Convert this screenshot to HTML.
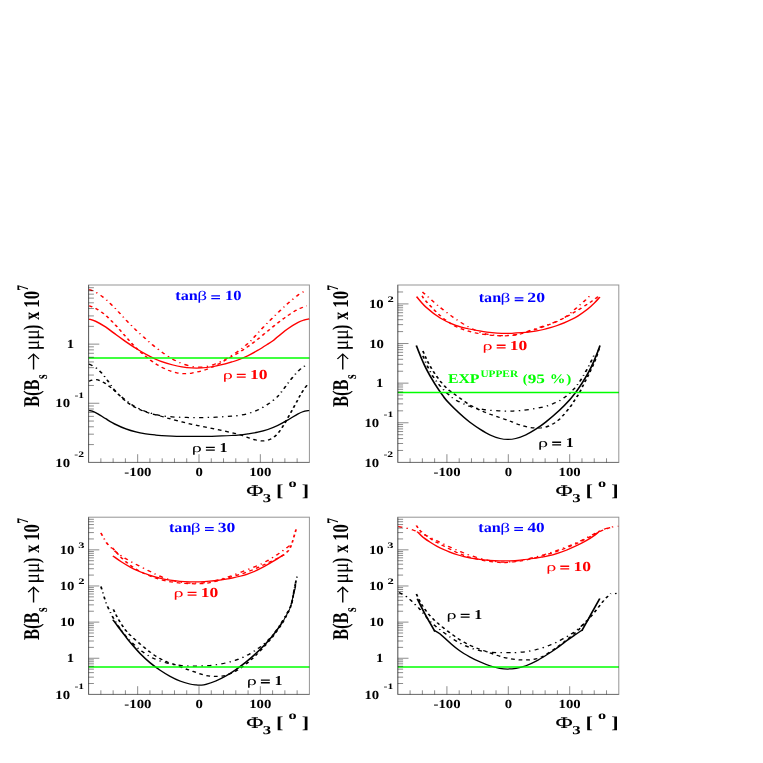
<!DOCTYPE html>
<html><head><meta charset="utf-8"><title>B(Bs to mu mu)</title>
<style>html,body{margin:0;padding:0;background:#fff;}body{width:763px;height:763px;overflow:hidden;}svg{display:block;will-change:transform;text-rendering:geometricPrecision;}text{font-family:"Liberation Serif",serif;font-weight:bold;}</style></head><body>
<svg width="763" height="763" viewBox="0 0 763 763">
<rect x="0" y="0" width="763" height="763" fill="#fff"/>
<g transform="scale(1.4100,1)">
<path d="M63.12,319.10 C63.92,319.48 65.97,320.04 67.95,321.37 C69.92,322.70 72.59,324.86 74.97,327.07 C77.36,329.29 80.01,332.36 82.26,334.68 C84.52,336.99 86.78,339.25 88.52,340.97 C90.27,342.70 91.45,343.79 92.75,345.02 C94.06,346.26 94.58,346.85 96.36,348.40 C98.14,349.94 101.10,352.46 103.45,354.27 C105.81,356.08 108.60,358.03 110.47,359.25 C112.35,360.47 112.78,360.69 114.71,361.60 C116.63,362.52 119.63,363.86 122.02,364.73 C124.41,365.61 126.69,366.33 129.03,366.86 C131.38,367.39 133.76,367.73 136.11,367.90 C138.45,368.07 140.76,368.05 143.11,367.86 C145.46,367.67 147.84,367.27 150.20,366.74 C152.56,366.22 154.91,365.51 157.27,364.71 C159.63,363.91 162.42,362.73 164.34,361.95 C166.25,361.16 166.83,361.02 168.74,359.98 C170.65,358.94 173.47,357.32 175.82,355.71 C178.17,354.11 180.48,352.29 182.84,350.35 C185.21,348.40 188.25,345.64 190.02,344.05 C191.79,342.46 192.27,342.04 193.45,340.81 C194.62,339.58 195.25,338.69 197.05,336.65 C198.86,334.62 201.89,330.96 204.27,328.61 C206.64,326.25 209.42,323.94 211.29,322.53 C213.15,321.12 214.10,320.74 215.44,320.14 C216.77,319.53 218.65,319.11 219.29,318.90" fill="none" stroke="#f00" stroke-width="1.25" />
<path d="M63.12,305.70 C63.92,306.15 65.95,306.81 67.91,308.41 C69.87,310.00 72.51,312.44 74.88,315.28 C77.24,318.11 79.72,321.83 82.11,325.41 C84.51,328.99 87.23,333.58 89.25,336.77 C91.27,339.95 92.81,342.41 94.23,344.54 C95.65,346.67 96.60,347.96 97.77,349.54 C98.95,351.11 100.11,352.54 101.29,353.98 C102.47,355.41 103.56,356.72 104.86,358.14 C106.15,359.56 107.65,361.16 109.06,362.49 C110.47,363.83 111.74,364.96 113.31,366.18 C114.88,367.39 117.03,368.86 118.48,369.77 C119.93,370.67 120.84,371.09 122.01,371.60 C123.17,372.10 124.31,372.49 125.47,372.80 C126.64,373.11 127.83,373.35 129.01,373.48 C130.19,373.61 131.37,373.64 132.55,373.56 C133.73,373.48 134.91,373.27 136.09,373.02 C137.27,372.77 138.47,372.42 139.64,372.06 C140.81,371.70 141.94,371.31 143.11,370.85 C144.28,370.39 145.47,369.90 146.64,369.31 C147.82,368.72 149.00,368.05 150.19,367.32 C151.37,366.58 152.58,365.73 153.76,364.90 C154.94,364.07 156.10,363.23 157.27,362.32 C158.44,361.40 159.60,360.39 160.78,359.41 C161.96,358.43 163.02,357.53 164.35,356.45 C165.68,355.37 167.45,354.04 168.77,352.95 C170.10,351.86 171.12,351.01 172.31,349.93 C173.49,348.85 174.71,347.65 175.88,346.49 C177.06,345.33 178.19,344.20 179.35,342.98 C180.52,341.77 181.08,341.23 182.86,339.21 C184.64,337.19 187.66,333.57 190.03,330.85 C192.40,328.13 194.71,325.44 197.07,322.88 C199.43,320.33 201.79,317.78 204.17,315.52 C206.56,313.26 209.14,310.97 211.36,309.34 C213.58,307.70 216.49,306.31 217.52,305.70" fill="none" stroke="#f00" stroke-width="1.25" stroke-dasharray="2.7 2.7"/>
<path d="M63.12,289.50 C63.92,289.97 65.94,290.68 67.91,292.30 C69.87,293.92 72.54,296.44 74.91,299.23 C77.28,302.01 79.73,305.57 82.12,309.00 C84.51,312.44 86.88,316.32 89.27,319.83 C91.66,323.35 94.10,326.92 96.45,330.10 C98.79,333.27 101.61,336.66 103.35,338.88 C105.10,341.10 105.75,341.98 106.93,343.41 C108.12,344.84 109.22,346.10 110.45,347.45 C111.68,348.80 113.21,350.38 114.32,351.52 C115.42,352.67 115.77,353.11 117.06,354.32 C118.35,355.53 120.52,357.52 122.04,358.77 C123.56,360.02 124.80,360.90 126.20,361.81 C127.60,362.72 128.93,363.51 130.46,364.25 C132.00,364.99 133.88,365.77 135.41,366.25 C136.95,366.73 138.14,367.02 139.66,367.13 C141.18,367.24 143.00,367.13 144.52,366.90 C146.04,366.67 147.35,366.27 148.77,365.75 C150.18,365.24 151.61,364.57 153.03,363.81 C154.44,363.06 155.95,362.13 157.24,361.23 C158.54,360.33 159.60,359.38 160.78,358.41 C161.96,357.43 163.00,356.56 164.32,355.38 C165.64,354.21 167.39,352.68 168.73,351.36 C170.06,350.05 171.15,348.82 172.34,347.50 C173.53,346.18 174.95,344.58 175.87,343.47 C176.79,342.37 176.67,342.64 177.86,340.88 C179.04,339.11 180.94,335.97 182.98,332.89 C185.01,329.81 187.73,325.73 190.07,322.40 C192.41,319.07 194.67,316.06 197.02,312.90 C199.37,309.74 201.75,306.45 204.16,303.47 C206.56,300.48 209.21,297.23 211.44,294.99 C213.67,292.74 216.51,290.83 217.52,290.00" fill="none" stroke="#f00" stroke-width="1.25" stroke-dasharray="3.0 3.1 1.0 3.1"/>
<path d="M63.12,410.50 C63.69,410.71 65.40,411.12 66.57,411.77 C67.73,412.43 68.70,413.25 70.13,414.43 C71.56,415.60 73.10,417.15 75.13,418.85 C77.16,420.55 79.94,422.95 82.30,424.62 C84.66,426.30 86.93,427.68 89.27,428.90 C91.61,430.12 94.00,431.12 96.36,431.94 C98.71,432.75 101.07,433.29 103.41,433.80 C105.76,434.32 108.52,434.74 110.43,435.04 C112.34,435.33 112.97,435.38 114.90,435.55 C116.82,435.73 119.63,435.93 121.99,436.06 C124.34,436.20 126.66,436.29 129.01,436.36 C131.36,436.43 133.75,436.46 136.10,436.48 C138.45,436.50 140.77,436.49 143.12,436.46 C145.47,436.43 147.85,436.36 150.21,436.28 C152.58,436.20 154.95,436.09 157.30,435.96 C159.66,435.83 162.41,435.65 164.33,435.50 C166.24,435.36 166.86,435.35 168.79,435.07 C170.71,434.80 173.53,434.34 175.88,433.86 C178.23,433.37 180.53,432.90 182.87,432.17 C185.22,431.45 187.61,430.60 189.95,429.50 C192.29,428.39 194.54,427.15 196.90,425.55 C199.26,423.95 201.72,421.83 204.11,419.90 C206.50,417.97 209.47,415.34 211.24,413.99 C213.02,412.64 213.42,412.36 214.77,411.78 C216.11,411.20 218.54,410.71 219.29,410.50" fill="none" stroke="#000" stroke-width="1.25" />
<path d="M63.12,381.30 C63.48,381.11 64.40,380.42 65.28,380.15 C66.16,379.89 67.14,379.42 68.40,379.72 C69.66,380.01 71.33,380.82 72.85,381.93 C74.38,383.04 76.19,384.94 77.56,386.36 C78.93,387.77 79.94,388.99 81.07,390.41 C82.19,391.82 83.22,393.33 84.31,394.82 C85.40,396.31 86.45,397.89 87.62,399.33 C88.80,400.77 90.13,402.23 91.36,403.47 C92.59,404.71 93.57,405.67 94.99,406.76 C96.41,407.84 98.34,409.05 99.87,409.97 C101.39,410.89 102.62,411.55 104.14,412.27 C105.67,413.00 107.23,413.63 109.02,414.33 C110.81,415.03 113.31,415.87 114.88,416.47 C116.45,417.06 117.25,417.42 118.44,417.90 C119.63,418.38 120.24,418.68 122.00,419.34 C123.76,420.01 126.66,421.07 129.01,421.90 C131.36,422.72 133.76,423.56 136.11,424.31 C138.47,425.06 140.77,425.71 143.12,426.40 C145.47,427.08 147.85,427.72 150.21,428.40 C152.58,429.08 154.94,429.75 157.30,430.46 C159.65,431.18 162.42,432.06 164.33,432.69 C166.24,433.31 167.44,433.70 168.77,434.22 C170.10,434.74 171.15,435.26 172.34,435.82 C173.52,436.38 174.72,437.02 175.89,437.59 C177.06,438.16 178.21,438.75 179.38,439.22 C180.55,439.70 181.75,440.17 182.93,440.44 C184.11,440.72 185.29,440.93 186.45,440.90 C187.62,440.87 188.78,440.75 189.94,440.27 C191.09,439.78 192.25,439.10 193.41,438.00 C194.56,436.90 195.68,435.55 196.85,433.68 C198.02,431.81 199.23,429.42 200.44,426.79 C201.65,424.16 202.92,420.87 204.12,417.90 C205.32,414.94 206.48,411.99 207.65,409.00 C208.83,406.00 210.25,402.32 211.15,399.96 C212.05,397.60 212.34,396.62 213.06,394.86 C213.78,393.10 214.62,391.15 215.48,389.39 C216.34,387.63 217.77,385.15 218.23,384.30" fill="none" stroke="#000" stroke-width="1.25" stroke-dasharray="2.7 2.7"/>
<path d="M63.12,364.10 C63.92,364.71 66.60,366.49 67.93,367.73 C69.26,368.97 70.09,370.09 71.10,371.53 C72.12,372.98 73.15,374.85 74.04,376.40 C74.94,377.96 75.70,379.37 76.47,380.85 C77.24,382.34 77.87,383.73 78.67,385.29 C79.46,386.84 80.30,388.59 81.25,390.16 C82.21,391.73 83.36,393.33 84.40,394.69 C85.44,396.05 86.33,397.00 87.50,398.33 C88.67,399.67 90.16,401.42 91.40,402.70 C92.65,403.98 93.55,404.89 94.96,406.03 C96.38,407.16 98.36,408.53 99.89,409.51 C101.42,410.48 102.62,411.13 104.14,411.87 C105.67,412.62 107.22,413.30 109.01,413.97 C110.81,414.63 112.77,415.37 114.93,415.86 C117.10,416.34 119.64,416.61 121.99,416.86 C124.33,417.11 126.66,417.22 129.01,417.34 C131.36,417.46 133.75,417.52 136.10,417.56 C138.45,417.60 140.77,417.60 143.12,417.56 C145.47,417.52 147.85,417.46 150.21,417.34 C152.57,417.22 154.95,417.04 157.30,416.84 C159.65,416.64 162.41,416.35 164.33,416.13 C166.24,415.91 166.86,415.94 168.78,415.52 C170.70,415.10 173.50,414.50 175.83,413.60 C178.16,412.69 180.42,411.63 182.77,410.08 C185.12,408.53 187.78,406.26 189.91,404.31 C192.03,402.35 194.21,399.86 195.51,398.35 C196.80,396.84 196.85,396.60 197.69,395.25 C198.52,393.90 199.62,391.90 200.52,390.25 C201.42,388.60 202.25,386.91 203.08,385.34 C203.92,383.76 204.66,382.38 205.55,380.82 C206.43,379.25 207.44,377.49 208.40,375.93 C209.35,374.38 210.20,372.95 211.27,371.49 C212.34,370.03 213.60,368.42 214.82,367.19 C216.04,365.95 217.95,364.61 218.58,364.10" fill="none" stroke="#000" stroke-width="1.25" stroke-dasharray="3.0 3.1 1.0 3.1"/>
<line x1="62.84" y1="358.00" x2="219.43" y2="358.00" stroke="#0f0" stroke-width="1.60"/>
<g transform="translate(27.80,407.00) rotate(-90)" font-size="16" fill="#000"><text transform="scale(1.03,1)" x="0" y="0">B(B</text><text x="28.0" y="5.3" font-size="11.8">s</text><path d="M37.6,-4.0 H52.8 M48.0,-7.8 L53.0,-4.0 L48.0,-0.2" fill="none" stroke="#000" stroke-width="1.0"/><text transform="translate(56.7,0) scale(1.22,1)" style="font-weight:normal">&#956;&#956;</text><text x="77.0" y="0">)</text><text x="87.3" y="0">x</text><text transform="translate(99.3,0) scale(1.05,1)">10</text><text x="116.3" y="-7.6" font-size="11.5">7</text></g>
<path d="M295.46,296.70 C296.57,298.44 299.29,303.56 302.09,307.13 C304.90,310.70 308.89,315.12 312.31,318.11 C315.74,321.10 319.20,323.26 322.64,325.08 C326.07,326.90 329.73,328.00 332.93,329.03 C336.13,330.07 339.20,330.72 341.85,331.31 C344.51,331.90 346.52,332.25 348.87,332.58 C351.22,332.90 353.61,333.14 355.96,333.26 C358.31,333.38 360.63,333.37 362.98,333.28 C365.33,333.19 367.92,332.95 370.07,332.73 C372.22,332.51 374.11,332.24 375.88,331.95 C377.65,331.66 379.09,331.39 380.69,330.98 C382.30,330.58 383.91,330.08 385.52,329.52 C387.13,328.97 388.73,328.34 390.35,327.67 C391.97,327.00 393.61,326.30 395.22,325.50 C396.84,324.71 398.44,323.86 400.05,322.91 C401.65,321.97 403.27,320.96 404.87,319.84 C406.47,318.71 407.65,317.97 409.63,316.19 C411.61,314.41 414.72,311.40 416.74,309.16 C418.76,306.92 420.30,304.79 421.74,302.76 C423.18,300.73 424.78,297.96 425.39,297.00" fill="none" stroke="#f00" stroke-width="1.25" />
<path d="M299.36,295.90 C299.79,296.73 299.74,297.53 301.91,300.87 C304.08,304.22 308.90,311.74 312.39,315.96 C315.88,320.18 319.41,323.62 322.84,326.20 C326.26,328.77 329.77,330.08 332.94,331.40 C336.12,332.73 339.22,333.49 341.87,334.14 C344.53,334.79 346.52,335.03 348.87,335.30 C351.22,335.57 353.61,335.74 355.96,335.76 C358.31,335.79 360.85,335.71 362.96,335.45 C365.07,335.19 366.72,334.77 368.61,334.17 C370.51,333.58 372.44,332.69 374.32,331.89 C376.21,331.09 378.05,330.25 379.92,329.37 C381.80,328.49 384.12,327.35 385.58,326.62 C387.04,325.89 387.00,325.90 388.67,324.97 C390.35,324.05 393.29,322.57 395.64,321.06 C397.99,319.55 400.41,317.71 402.77,315.91 C405.13,314.11 407.44,312.25 409.79,310.24 C412.14,308.24 414.99,305.63 416.87,303.89 C418.76,302.15 419.79,301.13 421.09,299.82 C422.39,298.50 424.08,296.64 424.68,296.00" fill="none" stroke="#f00" stroke-width="1.25" stroke-dasharray="2.7 2.7"/>
<path d="M299.57,292.00 C299.93,292.42 299.57,291.97 301.68,294.54 C303.78,297.11 308.73,303.44 312.22,307.43 C315.70,311.42 319.12,315.11 322.59,318.47 C326.07,321.83 329.84,325.16 333.07,327.57 C336.29,329.97 339.31,331.67 341.95,332.90 C344.59,334.13 346.55,334.51 348.89,334.96 C351.22,335.41 353.61,335.57 355.96,335.60 C358.30,335.63 360.85,335.47 362.96,335.16 C365.07,334.86 366.71,334.40 368.61,333.76 C370.50,333.11 372.44,332.15 374.32,331.29 C376.21,330.44 378.06,329.51 379.94,328.64 C381.82,327.78 383.69,326.99 385.60,326.10 C387.52,325.21 389.19,324.57 391.44,323.32 C393.69,322.07 397.23,319.94 399.10,318.60 C400.98,317.26 401.49,316.55 402.70,315.28 C403.90,314.00 405.16,312.36 406.35,310.96 C407.53,309.55 408.65,308.27 409.82,306.84 C411.00,305.41 412.22,303.88 413.40,302.39 C414.57,300.90 415.81,299.27 416.86,297.87 C417.91,296.48 419.24,294.65 419.72,294.00" fill="none" stroke="#f00" stroke-width="1.25" stroke-dasharray="3.0 3.1 1.0 3.1"/>
<path d="M295.25,345.50 C295.78,347.39 297.48,353.62 298.44,356.86 C299.39,360.10 300.12,362.39 300.98,364.96 C301.84,367.53 302.71,369.95 303.59,372.27 C304.46,374.59 305.34,376.78 306.21,378.86 C307.08,380.95 307.95,382.88 308.81,384.79 C309.67,386.69 310.60,388.65 311.38,390.27 C312.15,391.89 312.87,393.33 313.47,394.51 C314.06,395.69 314.21,396.07 314.94,397.36 C315.66,398.64 316.64,400.40 317.81,402.20 C318.98,404.00 320.07,405.61 321.95,408.15 C323.83,410.70 327.17,415.11 329.08,417.48 C330.99,419.86 331.49,420.42 333.39,422.39 C335.29,424.36 338.11,427.18 340.48,429.28 C342.85,431.38 345.23,433.45 347.59,434.98 C349.94,436.52 352.51,437.76 354.60,438.51 C356.70,439.25 358.28,439.44 360.14,439.44 C362.00,439.44 363.65,439.24 365.75,438.50 C367.86,437.76 370.41,436.52 372.77,434.98 C375.12,433.45 377.52,431.40 379.88,429.28 C382.23,427.16 384.06,425.44 386.89,422.26 C389.72,419.07 394.02,413.91 396.87,410.17 C399.72,406.44 402.09,402.82 404.00,399.86 C405.91,396.91 407.29,394.29 408.31,392.44 C409.34,390.60 409.40,390.33 410.14,388.80 C410.88,387.27 411.87,385.18 412.74,383.28 C413.61,381.37 414.48,379.45 415.35,377.36 C416.22,375.28 417.10,373.08 417.96,370.76 C418.82,368.44 419.64,366.14 420.50,363.46 C421.36,360.77 422.28,357.66 423.12,354.66 C423.96,351.67 425.13,347.03 425.53,345.50" fill="none" stroke="#000" stroke-width="1.25" />
<path d="M299.93,351.00 C300.23,351.98 301.12,354.98 301.74,356.88 C302.35,358.77 302.93,360.54 303.59,362.37 C304.26,364.20 304.99,366.08 305.73,367.85 C306.47,369.62 307.22,371.26 308.04,372.98 C308.85,374.69 309.71,376.43 310.62,378.14 C311.53,379.86 312.55,381.68 313.52,383.25 C314.48,384.82 315.39,386.25 316.39,387.59 C317.39,388.93 318.35,390.02 319.49,391.28 C320.64,392.54 320.98,392.86 323.27,395.13 C325.55,397.40 329.85,402.11 333.20,404.91 C336.56,407.71 339.98,409.88 343.41,411.94 C346.83,414.00 350.96,415.85 353.77,417.26 C356.58,418.66 358.71,419.60 360.26,420.37 C361.82,421.15 361.69,421.15 363.12,421.91 C364.55,422.68 366.73,424.04 368.85,424.96 C370.97,425.88 373.52,426.94 375.86,427.45 C378.20,427.95 380.57,428.30 382.88,428.00 C385.19,427.71 387.42,427.13 389.71,425.68 C392.01,424.23 394.27,422.29 396.64,419.30 C399.01,416.30 402.09,410.92 403.93,407.71 C405.76,404.50 406.58,402.30 407.64,400.05 C408.71,397.80 409.50,396.15 410.31,394.20 C411.12,392.26 411.84,390.25 412.52,388.38 C413.20,386.50 413.76,384.73 414.41,382.96 C415.05,381.19 415.74,379.52 416.37,377.74 C417.01,375.97 417.62,374.13 418.24,372.31 C418.85,370.48 419.47,368.64 420.07,366.80 C420.67,364.96 421.29,363.16 421.85,361.26 C422.40,359.35 422.83,357.81 423.41,355.37 C423.98,352.92 425.00,348.06 425.32,346.60" fill="none" stroke="#000" stroke-width="1.25" stroke-dasharray="2.7 2.7"/>
<path d="M299.93,355.80 C300.20,356.71 300.97,359.44 301.54,361.27 C302.11,363.10 302.74,365.03 303.34,366.79 C303.95,368.56 304.47,370.09 305.17,371.85 C305.87,373.61 306.75,375.68 307.52,377.33 C308.29,378.99 308.97,380.26 309.80,381.79 C310.62,383.32 311.59,385.08 312.47,386.53 C313.35,387.99 314.13,389.18 315.08,390.54 C316.03,391.90 316.91,393.17 318.18,394.66 C319.45,396.16 320.23,397.58 322.71,399.51 C325.19,401.45 329.63,404.60 333.08,406.28 C336.52,407.96 339.92,408.84 343.37,409.61 C346.82,410.38 350.94,410.64 353.76,410.90 C356.58,411.15 358.61,411.12 360.28,411.15 C361.96,411.17 362.41,411.15 363.83,411.06 C365.25,410.96 366.79,410.86 368.79,410.58 C370.78,410.30 373.46,409.84 375.81,409.36 C378.16,408.88 380.54,408.42 382.88,407.70 C385.22,406.99 387.52,406.24 389.85,405.07 C392.18,403.89 394.81,402.24 396.87,400.64 C398.94,399.03 400.82,396.99 402.25,395.44 C403.67,393.90 404.42,392.77 405.43,391.35 C406.43,389.93 407.41,388.41 408.30,386.91 C409.18,385.42 409.95,383.95 410.73,382.36 C411.52,380.76 412.28,379.04 413.01,377.37 C413.74,375.69 414.42,374.01 415.12,372.31 C415.81,370.61 416.53,368.87 417.17,367.15 C417.82,365.44 418.38,363.77 419.00,362.00 C419.62,360.22 420.44,357.77 420.88,356.52 C421.31,355.27 421.51,354.84 421.63,354.50" fill="none" stroke="#000" stroke-width="1.25" stroke-dasharray="3.0 3.1 1.0 3.1"/>
<line x1="282.13" y1="392.50" x2="438.87" y2="392.50" stroke="#0f0" stroke-width="1.30"/>
<g transform="translate(247.09,407.00) rotate(-90)" font-size="16" fill="#000"><text transform="scale(1.03,1)" x="0" y="0">B(B</text><text x="28.0" y="5.3" font-size="11.8">s</text><path d="M37.6,-4.0 H52.8 M48.0,-7.8 L53.0,-4.0 L48.0,-0.2" fill="none" stroke="#000" stroke-width="1.0"/><text transform="translate(56.7,0) scale(1.22,1)" style="font-weight:normal">&#956;&#956;</text><text x="77.0" y="0">)</text><text x="87.3" y="0">x</text><text transform="translate(99.3,0) scale(1.05,1)">10</text><text x="116.3" y="-7.6" font-size="11.5">7</text></g>
<path d="M80.07,555.90 C81.03,556.85 83.71,559.69 85.83,561.61 C87.96,563.53 90.84,565.92 92.83,567.43 C94.82,568.95 96.00,569.63 97.76,570.70 C99.52,571.76 101.96,573.04 103.40,573.81 C104.84,574.58 104.72,574.58 106.40,575.31 C108.09,576.05 111.16,577.40 113.51,578.22 C115.86,579.03 118.17,579.69 120.52,580.20 C122.87,580.72 125.24,581.04 127.59,581.30 C129.94,581.57 132.26,581.72 134.61,581.80 C136.96,581.88 139.34,581.87 141.70,581.76 C144.06,581.65 146.44,581.40 148.79,581.12 C151.14,580.83 153.90,580.38 155.81,580.05 C157.73,579.72 158.71,579.51 160.28,579.14 C161.85,578.78 163.59,578.33 165.24,577.84 C166.89,577.36 168.57,576.82 170.20,576.23 C171.83,575.65 173.41,575.04 175.02,574.31 C176.62,573.58 178.20,572.79 179.81,571.83 C181.42,570.87 183.04,569.73 184.67,568.56 C186.29,567.39 187.93,566.13 189.55,564.83 C191.17,563.53 192.76,562.15 194.38,560.76 C196.00,559.37 198.05,557.51 199.26,556.50 C200.47,555.49 201.24,555.00 201.63,554.70" fill="none" stroke="#f00" stroke-width="1.25" />
<path d="M79.72,547.90 C80.13,548.56 81.19,550.32 82.21,551.88 C83.23,553.45 84.64,555.66 85.82,557.30 C86.99,558.94 88.09,560.34 89.25,561.74 C90.42,563.14 91.51,564.39 92.82,565.71 C94.12,567.03 95.64,568.46 97.08,569.66 C98.52,570.86 99.90,571.86 101.45,572.91 C103.00,573.95 104.86,575.07 106.40,575.95 C107.93,576.83 108.90,577.39 110.67,578.18 C112.43,578.97 114.75,579.98 116.98,580.70 C119.22,581.42 121.70,582.04 124.06,582.48 C126.42,582.93 128.79,583.15 131.14,583.36 C133.49,583.57 135.81,583.75 138.16,583.76 C140.51,583.77 143.22,583.67 145.23,583.43 C147.24,583.19 148.67,582.75 150.20,582.32 C151.72,581.88 152.97,581.37 154.38,580.81 C155.79,580.25 157.09,579.61 158.66,578.95 C160.24,578.29 162.21,577.49 163.84,576.85 C165.47,576.21 166.88,575.75 168.42,575.11 C169.97,574.48 171.53,573.81 173.11,573.06 C174.69,572.30 176.30,571.49 177.91,570.58 C179.52,569.67 181.24,568.59 182.77,567.62 C184.31,566.66 185.66,565.76 187.12,564.78 C188.59,563.80 190.04,562.71 191.56,561.72 C193.08,560.73 194.75,559.86 196.22,558.82 C197.68,557.78 199.01,556.75 200.34,555.48 C201.67,554.20 203.24,552.64 204.20,551.18 C205.17,549.73 205.62,548.30 206.15,546.75 C206.68,545.20 206.97,543.75 207.39,541.87 C207.81,540.00 208.24,537.66 208.69,535.51 C209.14,533.37 209.84,530.09 210.07,529.00" fill="none" stroke="#f00" stroke-width="1.25" stroke-dasharray="2.7 2.7"/>
<path d="M71.56,532.90 C71.91,533.82 72.94,536.61 73.69,538.40 C74.44,540.19 75.11,541.96 76.06,543.63 C77.00,545.30 78.21,546.88 79.36,548.40 C80.51,549.92 81.79,551.46 82.98,552.78 C84.16,554.10 85.33,555.24 86.49,556.32 C87.65,557.41 88.64,558.23 89.93,559.29 C91.22,560.36 92.80,561.64 94.21,562.72 C95.63,563.81 97.03,564.79 98.44,565.80 C99.85,566.81 101.29,567.81 102.69,568.81 C104.10,569.81 105.47,570.80 106.88,571.79 C108.29,572.78 109.46,573.67 111.15,574.74 C112.84,575.82 114.86,577.18 117.01,578.26 C119.17,579.34 121.73,580.46 124.09,581.21 C126.44,581.97 128.80,582.45 131.15,582.78 C133.49,583.12 135.81,583.24 138.16,583.22 C140.50,583.20 143.22,582.97 145.23,582.68 C147.24,582.39 148.40,582.04 150.20,581.50 C151.99,580.95 153.86,580.28 156.01,579.41 C158.16,578.54 160.48,577.53 163.09,576.26 C165.69,574.99 168.47,573.50 171.63,571.79 C174.78,570.08 179.55,567.44 182.02,565.99 C184.50,564.54 185.08,564.10 186.49,563.11 C187.90,562.12 189.16,561.12 190.47,560.05 C191.79,558.97 193.08,557.82 194.37,556.65 C195.67,555.47 196.99,554.20 198.23,553.00 C199.47,551.80 200.53,550.76 201.82,549.45 C203.11,548.13 205.27,545.82 205.96,545.10" fill="none" stroke="#f00" stroke-width="1.25" stroke-dasharray="3.0 3.1 1.0 3.1"/>
<path d="M80.07,619.80 C80.43,620.46 81.40,622.27 82.22,623.78 C83.04,625.29 84.06,627.10 84.99,628.85 C85.93,630.59 87.13,632.94 87.83,634.27 C88.53,635.60 88.47,635.48 89.21,636.81 C89.95,638.14 90.56,639.43 92.26,642.24 C93.96,645.04 97.05,650.22 99.41,653.64 C101.77,657.05 104.08,659.98 106.42,662.72 C108.75,665.46 111.08,667.86 113.43,670.10 C115.77,672.34 118.12,674.34 120.49,676.15 C122.85,677.96 125.26,679.65 127.61,680.96 C129.96,682.27 132.68,683.35 134.58,684.02 C136.48,684.68 137.68,684.76 139.01,684.94 C140.34,685.12 141.37,685.20 142.55,685.10 C143.72,685.00 144.31,685.04 146.06,684.36 C147.81,683.68 150.69,682.40 153.04,681.02 C155.38,679.64 157.76,677.95 160.12,676.07 C162.47,674.18 164.82,671.99 167.18,669.69 C169.53,667.39 171.90,664.93 174.25,662.27 C176.60,659.61 178.95,656.81 181.31,653.73 C183.66,650.65 186.47,646.60 188.37,643.80 C190.26,641.01 191.59,638.72 192.65,636.95 C193.71,635.18 193.88,634.81 194.74,633.19 C195.61,631.58 196.78,629.34 197.83,627.25 C198.87,625.17 200.47,621.79 200.99,620.70" fill="none" stroke="#000" stroke-width="1.25" />
<path d="M80.43,609.40 C80.73,610.31 81.60,613.05 82.26,614.86 C82.92,616.67 83.61,618.44 84.37,620.26 C85.13,622.08 86.00,624.04 86.83,625.78 C87.66,627.51 88.42,629.12 89.33,630.67 C90.24,632.23 90.62,632.90 92.27,635.09 C93.92,637.29 96.88,641.02 99.24,643.87 C101.60,646.71 104.07,649.70 106.44,652.15 C108.81,654.61 111.35,656.92 113.45,658.60 C115.55,660.28 117.19,661.15 119.05,662.22 C120.92,663.30 122.76,664.07 124.64,665.06 C126.51,666.06 128.66,667.32 130.31,668.18 C131.97,669.05 133.10,669.58 134.54,670.28 C135.99,670.98 137.65,671.73 138.99,672.38 C140.33,673.03 141.39,673.66 142.58,674.17 C143.77,674.69 144.95,675.15 146.12,675.49 C147.28,675.83 148.41,676.05 149.58,676.22 C150.75,676.38 151.94,676.48 153.12,676.48 C154.30,676.48 155.49,676.42 156.66,676.22 C157.83,676.02 158.43,676.13 160.16,675.30 C161.88,674.47 164.67,673.10 167.02,671.26 C169.37,669.42 171.88,666.87 174.25,664.27 C176.62,661.66 178.87,658.87 181.23,655.63 C183.60,652.40 186.52,647.83 188.42,644.87 C190.32,641.92 191.53,639.82 192.63,637.93 C193.74,636.03 194.12,635.26 195.04,633.51 C195.97,631.76 197.19,629.46 198.17,627.44 C199.15,625.43 200.13,623.29 200.92,621.44 C201.71,619.58 202.36,617.76 202.91,616.30 C203.47,614.85 203.77,614.07 204.24,612.69 C204.72,611.31 205.29,609.76 205.76,608.03 C206.22,606.29 206.66,604.20 207.01,602.27 C207.36,600.35 207.62,598.17 207.84,596.49 C208.06,594.82 208.13,593.89 208.34,592.21 C208.56,590.53 208.87,588.32 209.14,586.40 C209.40,584.48 209.80,581.65 209.93,580.70" fill="none" stroke="#000" stroke-width="1.25" stroke-dasharray="2.7 2.7"/>
<path d="M71.56,586.50 C71.79,587.50 72.52,590.62 72.94,592.52 C73.35,594.42 73.68,596.17 74.06,597.89 C74.44,599.62 74.73,601.10 75.21,602.85 C75.68,604.59 76.33,606.62 76.91,608.38 C77.48,610.14 78.06,611.75 78.66,613.40 C79.25,615.04 79.80,616.59 80.47,618.26 C81.14,619.94 81.91,621.74 82.68,623.45 C83.45,625.16 84.31,626.94 85.09,628.51 C85.87,630.09 86.14,630.83 87.34,632.89 C88.54,634.94 90.30,637.99 92.31,640.85 C94.33,643.71 97.07,647.41 99.42,650.03 C101.78,652.66 104.33,654.92 106.42,656.62 C108.51,658.32 110.10,659.19 111.96,660.22 C113.83,661.24 115.73,662.05 117.61,662.77 C119.50,663.49 121.39,664.08 123.28,664.54 C125.17,665.01 127.07,665.33 128.94,665.58 C130.82,665.83 132.86,665.96 134.54,666.05 C136.22,666.14 137.08,666.18 139.01,666.13 C140.93,666.08 143.74,665.99 146.09,665.76 C148.44,665.53 150.76,665.22 153.11,664.75 C155.45,664.27 157.84,663.69 160.18,662.92 C162.53,662.16 164.84,661.31 167.18,660.17 C169.52,659.03 171.86,657.74 174.21,656.08 C176.57,654.41 178.97,652.42 181.32,650.19 C183.66,647.95 186.39,644.94 188.27,642.64 C190.16,640.35 191.39,638.36 192.62,636.41 C193.85,634.46 194.69,632.84 195.68,630.94 C196.67,629.03 197.68,626.90 198.56,624.98 C199.45,623.07 200.27,621.18 201.01,619.45 C201.74,617.73 202.43,615.93 202.96,614.65 C203.50,613.37 203.74,612.95 204.21,611.76 C204.68,610.57 205.29,609.11 205.76,607.52 C206.22,605.94 206.65,604.10 207.00,602.27 C207.34,600.43 207.61,598.17 207.84,596.49 C208.06,594.82 208.13,593.89 208.34,592.21 C208.56,590.53 208.87,588.31 209.14,586.40 C209.41,584.48 209.71,582.39 209.97,580.71 C210.23,579.03 210.59,577.04 210.71,576.30" fill="none" stroke="#000" stroke-width="1.25" stroke-dasharray="3.0 3.1 1.0 3.1"/>
<path d="M200.99,620.70 C201.42,619.60 202.73,616.30 203.55,614.10 C204.36,611.90 205.27,609.83 205.89,607.50 C206.50,605.17 206.80,602.55 207.23,600.10 C207.67,597.65 208.09,595.23 208.51,592.80 C208.94,590.37 209.57,586.72 209.79,585.50" fill="none" stroke="#000" stroke-width="0.80" />
<line x1="62.84" y1="667.03" x2="219.43" y2="667.03" stroke="#0f0" stroke-width="1.65"/>
<g transform="translate(27.80,640.10) rotate(-90)" font-size="16" fill="#000"><text transform="scale(1.03,1)" x="0" y="0">B(B</text><text x="28.0" y="5.3" font-size="11.8">s</text><path d="M37.6,-4.0 H52.8 M48.0,-7.8 L53.0,-4.0 L48.0,-0.2" fill="none" stroke="#000" stroke-width="1.0"/><text transform="translate(56.7,0) scale(1.22,1)" style="font-weight:normal">&#956;&#956;</text><text x="77.0" y="0">)</text><text x="87.3" y="0">x</text><text transform="translate(99.3,0) scale(1.05,1)">10</text><text x="116.3" y="-7.6" font-size="11.5">7</text></g>
<path d="M295.89,531.60 C296.28,532.15 297.39,533.76 298.25,534.87 C299.10,535.98 299.88,537.04 301.00,538.26 C302.13,539.47 303.52,540.82 304.99,542.14 C306.46,543.47 308.22,544.95 309.83,546.19 C311.44,547.43 313.04,548.56 314.65,549.58 C316.25,550.61 317.83,551.48 319.45,552.34 C321.06,553.20 322.72,554.01 324.34,554.73 C325.96,555.46 327.56,556.12 329.17,556.69 C330.78,557.25 332.38,557.71 333.98,558.12 C335.59,558.53 336.66,558.77 338.80,559.13 C340.94,559.49 344.24,560.01 346.81,560.29 C349.39,560.58 351.79,560.78 354.26,560.86 C356.73,560.94 359.16,560.91 361.63,560.78 C364.10,560.65 366.59,560.40 369.07,560.06 C371.55,559.72 374.03,559.23 376.52,558.74 C379.00,558.25 381.96,557.60 383.98,557.14 C385.99,556.68 386.73,556.60 388.62,555.96 C390.50,555.32 393.07,554.32 395.30,553.32 C397.53,552.31 399.78,551.18 402.01,549.94 C404.24,548.69 406.49,547.31 408.70,545.83 C410.92,544.36 413.09,542.89 415.30,541.08 C417.52,539.27 420.36,536.62 421.99,534.96 C423.62,533.29 424.59,531.74 425.11,531.10" fill="none" stroke="#f00" stroke-width="1.25" />
<path d="M295.25,525.40 C295.49,525.91 296.21,527.51 296.72,528.45 C297.23,529.38 297.46,529.88 298.30,531.00 C299.14,532.12 300.49,533.80 301.77,535.17 C303.05,536.54 304.56,537.96 305.99,539.23 C307.41,540.51 308.60,541.48 310.32,542.81 C312.04,544.14 314.28,545.76 316.31,547.20 C318.35,548.64 320.63,550.25 322.52,551.48 C324.42,552.70 325.93,553.61 327.67,554.56 C329.41,555.51 330.34,556.15 332.96,557.16 C335.58,558.17 339.91,559.76 343.38,560.63 C346.85,561.50 350.95,562.11 353.77,562.39 C356.59,562.67 357.46,562.62 360.28,562.32 C363.09,562.02 367.19,561.43 370.66,560.59 C374.13,559.75 378.12,558.34 381.11,557.29 C384.11,556.24 386.29,555.28 388.65,554.27 C391.01,553.26 393.05,552.36 395.28,551.25 C397.52,550.13 399.82,548.86 402.05,547.59 C404.29,546.33 406.46,545.08 408.68,543.65 C410.89,542.22 413.12,540.65 415.36,539.03 C417.61,537.41 420.47,535.20 422.15,533.96 C423.83,532.72 424.34,532.35 425.46,531.58 C426.57,530.82 427.83,529.94 428.84,529.36 C429.85,528.78 430.74,528.44 431.49,528.11 C432.24,527.78 433.03,527.52 433.33,527.40" fill="none" stroke="#f00" stroke-width="1.25" stroke-dasharray="2.7 2.7"/>
<path d="M282.41,526.50 C283.37,526.76 286.44,527.45 288.19,528.04 C289.93,528.63 291.29,529.27 292.90,530.05 C294.51,530.82 296.30,531.78 297.85,532.67 C299.41,533.57 300.88,534.50 302.23,535.41 C303.59,536.32 304.64,537.18 305.98,538.13 C307.33,539.08 308.85,540.12 310.28,541.10 C311.72,542.08 313.15,543.03 314.61,544.01 C316.06,544.98 317.57,546.01 319.02,546.96 C320.48,547.90 321.90,548.80 323.34,549.68 C324.78,550.57 326.06,551.37 327.67,552.28 C329.27,553.18 330.33,553.94 332.95,555.13 C335.57,556.31 339.93,558.28 343.40,559.40 C346.87,560.53 350.97,561.44 353.78,561.88 C356.59,562.32 357.46,562.35 360.27,562.04 C363.08,561.74 367.19,560.97 370.66,560.05 C374.14,559.13 378.12,557.62 381.12,556.52 C384.12,555.42 386.28,554.47 388.64,553.45 C391.00,552.43 393.06,551.50 395.29,550.38 C397.52,549.27 399.81,548.03 402.04,546.76 C404.28,545.49 406.47,544.21 408.69,542.78 C410.91,541.36 413.12,539.82 415.36,538.23 C417.61,536.64 420.46,534.46 422.14,533.25 C423.83,532.03 424.36,531.65 425.47,530.93 C426.59,530.21 427.83,529.46 428.83,528.94 C429.83,528.42 430.49,528.17 431.49,527.81 C432.49,527.45 433.67,527.04 434.84,526.77 C436.01,526.50 437.90,526.30 438.51,526.20" fill="none" stroke="#f00" stroke-width="1.25" stroke-dasharray="3.0 3.1 1.0 3.1"/>
<path d="M295.96,598.70 C296.91,601.38 299.70,609.55 301.70,614.80 C303.70,620.05 306.89,627.62 307.94,630.20 C309.00,632.78 307.33,629.68 308.01,630.30 C308.70,630.92 310.20,631.80 312.06,633.90 C313.91,636.00 316.80,640.07 319.15,642.90 C321.50,645.73 323.82,648.57 326.17,650.90 C328.52,653.23 330.91,655.08 333.26,656.90 C335.61,658.72 337.93,660.32 340.28,661.80 C342.64,663.28 345.01,664.72 347.38,665.80 C349.74,666.88 352.35,667.77 354.47,668.30 C356.58,668.83 358.16,669.00 360.07,669.00 C361.99,669.00 363.79,668.83 365.96,668.30 C368.12,667.77 370.70,666.97 373.05,665.80 C375.40,664.63 377.72,663.03 380.07,661.30 C382.42,659.57 384.81,657.47 387.16,655.40 C389.52,653.33 391.83,651.23 394.18,648.90 C396.54,646.57 398.91,643.82 401.28,641.40 C403.64,638.98 406.45,636.28 408.37,634.40 C410.28,632.52 412.01,630.85 412.77,630.10 C413.52,629.35 412.21,631.60 412.91,629.90 C413.61,628.20 415.57,623.40 416.95,619.90 C418.33,616.40 419.80,612.48 421.21,608.90 C422.61,605.32 424.69,600.15 425.39,598.40" fill="none" stroke="#000" stroke-width="1.25" />
<path d="M295.32,594.00 C295.76,595.30 297.08,599.46 297.97,601.77 C298.86,604.08 299.61,605.71 300.67,607.87 C301.73,610.03 303.03,612.58 304.33,614.73 C305.63,616.88 307.07,618.93 308.45,620.77 C309.84,622.61 310.86,623.74 312.65,625.76 C314.43,627.78 316.88,630.50 319.16,632.88 C321.44,635.26 323.97,637.97 326.33,640.03 C328.69,642.09 330.98,643.70 333.31,645.24 C335.64,646.78 338.22,648.12 340.32,649.26 C342.42,650.39 344.03,651.08 345.92,652.04 C347.81,653.00 349.79,654.13 351.68,655.01 C353.57,655.89 355.61,656.71 357.25,657.30 C358.89,657.89 360.04,658.18 361.50,658.55 C362.95,658.92 364.63,659.29 365.96,659.51 C367.30,659.74 368.33,659.85 369.51,659.92 C370.69,659.99 371.88,660.00 373.05,659.96 C374.22,659.92 375.35,659.87 376.52,659.68 C377.68,659.50 378.87,659.26 380.05,658.85 C381.22,658.44 382.38,657.94 383.57,657.24 C384.76,656.53 385.41,656.16 387.17,654.64 C388.93,653.11 391.78,650.43 394.13,648.09 C396.48,645.74 398.92,643.16 401.27,640.59 C403.62,638.02 406.45,634.84 408.21,632.66 C409.97,630.48 410.64,629.27 411.84,627.50 C413.05,625.73 414.35,623.67 415.43,622.05 C416.51,620.44 417.22,619.51 418.30,617.81 C419.37,616.11 420.69,613.92 421.87,611.85 C423.06,609.79 424.35,607.33 425.41,605.43 C426.48,603.53 427.32,602.01 428.27,600.45 C429.22,598.90 430.31,597.25 431.13,596.09 C431.95,594.94 432.85,593.93 433.19,593.50" fill="none" stroke="#000" stroke-width="1.25" stroke-dasharray="2.7 2.7"/>
<path d="M282.98,592.50 C283.78,593.13 286.46,595.05 287.80,596.29 C289.15,597.53 289.95,598.61 291.03,599.95 C292.11,601.30 293.24,602.91 294.29,604.35 C295.34,605.78 296.39,607.12 297.34,608.55 C298.28,609.97 298.78,610.94 299.94,612.89 C301.10,614.83 302.91,618.09 304.32,620.22 C305.74,622.34 307.16,624.11 308.45,625.66 C309.73,627.22 310.22,627.65 312.02,629.57 C313.82,631.48 316.90,634.89 319.27,637.15 C321.64,639.42 323.92,641.41 326.26,643.16 C328.60,644.91 330.99,646.40 333.33,647.64 C335.68,648.89 337.99,649.86 340.33,650.61 C342.67,651.36 345.03,651.82 347.39,652.16 C349.75,652.50 352.12,652.55 354.47,652.64 C356.82,652.73 359.58,652.71 361.49,652.70 C363.40,652.69 364.03,652.75 365.95,652.58 C367.88,652.40 370.68,652.14 373.03,651.66 C375.37,651.19 377.69,650.54 380.04,649.72 C382.39,648.89 384.77,647.89 387.12,646.72 C389.46,645.54 391.75,644.22 394.10,642.66 C396.46,641.10 399.37,638.84 401.26,637.36 C403.16,635.88 404.07,635.11 405.47,633.77 C406.88,632.44 408.29,630.99 409.70,629.36 C411.12,627.73 412.89,625.38 413.95,623.97 C415.01,622.57 415.30,622.10 416.05,620.94 C416.80,619.78 418.04,617.66 418.44,617.00" fill="none" stroke="#000" stroke-width="1.25" stroke-dasharray="3.0 3.1 1.0 3.1"/>
<path d="M436.17,593.60 L437.30,593.30" fill="none" stroke="#000" stroke-width="1.20" />
<line x1="282.13" y1="667.03" x2="438.87" y2="667.03" stroke="#0f0" stroke-width="1.65"/>
<g transform="translate(247.09,640.10) rotate(-90)" font-size="16" fill="#000"><text transform="scale(1.03,1)" x="0" y="0">B(B</text><text x="28.0" y="5.3" font-size="11.8">s</text><path d="M37.6,-4.0 H52.8 M48.0,-7.8 L53.0,-4.0 L48.0,-0.2" fill="none" stroke="#000" stroke-width="1.0"/><text transform="translate(56.7,0) scale(1.22,1)" style="font-weight:normal">&#956;&#956;</text><text x="77.0" y="0">)</text><text x="87.3" y="0">x</text><text transform="translate(99.3,0) scale(1.05,1)">10</text><text x="116.3" y="-7.6" font-size="11.5">7</text></g>
</g>
<rect x="88.60" y="285.00" width="220.80" height="177.40" fill="none" stroke="#000" stroke-width="1" stroke-opacity="0.42"/>
<path d="M88.60,285.00 V462.40" fill="none" stroke="#000" stroke-width="1" stroke-opacity="0.4"/>
<path d="M88.60,462.40 H309.40" fill="none" stroke="#000" stroke-width="1" stroke-opacity="0.28"/>
<path d="M100.87,462.40 v-4.10 M113.13,462.40 v-4.10 M125.40,462.40 v-4.10 M137.67,462.40 v-8.20 M149.93,462.40 v-4.10 M162.20,462.40 v-4.10 M174.47,462.40 v-4.10 M186.73,462.40 v-4.10 M199.00,462.40 v-8.20 M211.27,462.40 v-4.10 M223.53,462.40 v-4.10 M235.80,462.40 v-4.10 M248.07,462.40 v-4.10 M260.33,462.40 v-8.20 M272.60,462.40 v-4.10 M284.87,462.40 v-4.10 M297.13,462.40 v-4.10 " stroke="#000" stroke-width="0.9" stroke-opacity="0.5" fill="none"/>
<path d="M88.60,444.59 h5.30 M88.60,434.18 h5.30 M88.60,426.79 h5.30 M88.60,421.06 h5.30 M88.60,416.38 h5.30 M88.60,412.42 h5.30 M88.60,408.99 h5.30 M88.60,405.97 h5.30 M88.60,403.26 h10.70 M88.60,385.46 h5.30 M88.60,375.05 h5.30 M88.60,367.66 h5.30 M88.60,361.93 h5.30 M88.60,357.25 h5.30 M88.60,353.29 h5.30 M88.60,349.86 h5.30 M88.60,346.84 h5.30 M88.60,344.13 h10.70 M88.60,326.33 h5.30 M88.60,315.92 h5.30 M88.60,308.53 h5.30 M88.60,302.80 h5.30 M88.60,298.12 h5.30 M88.60,294.16 h5.30 M88.60,290.73 h5.30 M88.60,287.71 h5.30 " stroke="#000" stroke-width="0.9" stroke-opacity="0.5" fill="none"/>
<text transform="translate(124.35,475.90) scale(1.1900,1)" font-size="12.40" fill="#000">-100</text>
<text transform="translate(195.51,475.90) scale(1.1900,1)" font-size="12.40" fill="#000">0</text>
<text transform="translate(249.15,475.90) scale(1.1900,1)" font-size="12.40" fill="#000">100</text>
<text transform="translate(66.80,348.33) scale(1.1900,1)" font-size="12.40" fill="#000">1</text>
<text transform="translate(74.39,397.96) scale(1.3900,1)" font-size="8.40" fill="#000">-1</text>
<text transform="translate(55.30,407.46) scale(1.1900,1)" font-size="12.40" fill="#000">10</text>
<text transform="translate(74.28,457.09) scale(1.3900,1)" font-size="8.40" fill="#000">-2</text>
<text transform="translate(55.30,466.59) scale(1.1900,1)" font-size="12.40" fill="#000">10</text>
<text transform="translate(246.19,495.70) scale(1.4206,1)" font-size="16.60" fill="#000" style="font-weight:normal" stroke="#000" stroke-width="0.15">&#934;</text>
<text transform="translate(262.77,501.50) scale(1.3805,1)" font-size="12.20" fill="#000">3</text>
<text transform="translate(276.11,496.10) scale(1.3537,1)" font-size="16.60" fill="#000">[</text>
<text transform="translate(288.59,487.20) scale(1.3996,1)" font-size="11.60" fill="#000">o</text>
<text transform="translate(301.82,496.10) scale(1.3387,1)" font-size="16.60" fill="#000">]</text>
<rect x="397.80" y="285.00" width="221.00" height="177.40" fill="none" stroke="#000" stroke-width="1" stroke-opacity="0.42"/>
<path d="M397.80,285.00 V462.40" fill="none" stroke="#000" stroke-width="1" stroke-opacity="0.4"/>
<path d="M397.80,462.40 H618.80" fill="none" stroke="#000" stroke-width="1" stroke-opacity="0.28"/>
<path d="M410.08,462.40 v-4.10 M422.36,462.40 v-4.10 M434.63,462.40 v-4.10 M446.91,462.40 v-8.20 M459.19,462.40 v-4.10 M471.47,462.40 v-4.10 M483.74,462.40 v-4.10 M496.02,462.40 v-4.10 M508.30,462.40 v-8.20 M520.58,462.40 v-4.10 M532.86,462.40 v-4.10 M545.13,462.40 v-4.10 M557.41,462.40 v-4.10 M569.69,462.40 v-8.20 M581.97,462.40 v-4.10 M594.24,462.40 v-4.10 M606.52,462.40 v-4.10 " stroke="#000" stroke-width="0.9" stroke-opacity="0.5" fill="none"/>
<path d="M397.80,450.46 h5.30 M397.80,443.49 h5.30 M397.80,438.54 h5.30 M397.80,434.70 h5.30 M397.80,431.56 h5.30 M397.80,428.91 h5.30 M397.80,426.61 h5.30 M397.80,424.58 h5.30 M397.80,422.77 h10.70 M397.80,410.84 h5.30 M397.80,403.87 h5.30 M397.80,398.92 h5.30 M397.80,395.08 h5.30 M397.80,391.94 h5.30 M397.80,389.29 h5.30 M397.80,386.99 h5.30 M397.80,384.96 h5.30 M397.80,383.15 h10.70 M397.80,371.22 h5.30 M397.80,364.25 h5.30 M397.80,359.30 h5.30 M397.80,355.46 h5.30 M397.80,352.32 h5.30 M397.80,349.67 h5.30 M397.80,347.37 h5.30 M397.80,345.34 h5.30 M397.80,343.53 h10.70 M397.80,331.60 h5.30 M397.80,324.63 h5.30 M397.80,319.68 h5.30 M397.80,315.84 h5.30 M397.80,312.70 h5.30 M397.80,310.05 h5.30 M397.80,307.75 h5.30 M397.80,305.72 h5.30 M397.80,303.91 h10.70 M397.80,291.98 h5.30 " stroke="#000" stroke-width="0.9" stroke-opacity="0.5" fill="none"/>
<text transform="translate(433.59,475.90) scale(1.1900,1)" font-size="12.40" fill="#000">-100</text>
<text transform="translate(504.81,475.90) scale(1.1900,1)" font-size="12.40" fill="#000">0</text>
<text transform="translate(558.51,475.90) scale(1.1900,1)" font-size="12.40" fill="#000">100</text>
<text transform="translate(387.44,302.41) scale(1.5000,1)" font-size="8.40" fill="#000">2</text>
<text transform="translate(368.90,308.11) scale(1.1900,1)" font-size="12.40" fill="#000">10</text>
<text transform="translate(369.20,347.73) scale(1.1900,1)" font-size="12.40" fill="#000">10</text>
<text transform="translate(376.00,387.35) scale(1.1900,1)" font-size="12.40" fill="#000">1</text>
<text transform="translate(383.59,417.47) scale(1.3900,1)" font-size="8.40" fill="#000">-1</text>
<text transform="translate(364.50,426.97) scale(1.1900,1)" font-size="12.40" fill="#000">10</text>
<text transform="translate(383.48,457.09) scale(1.3900,1)" font-size="8.40" fill="#000">-2</text>
<text transform="translate(364.50,466.59) scale(1.1900,1)" font-size="12.40" fill="#000">10</text>
<text transform="translate(555.59,495.70) scale(1.4206,1)" font-size="16.60" fill="#000" style="font-weight:normal" stroke="#000" stroke-width="0.15">&#934;</text>
<text transform="translate(572.17,501.50) scale(1.3805,1)" font-size="12.20" fill="#000">3</text>
<text transform="translate(585.51,496.10) scale(1.3537,1)" font-size="16.60" fill="#000">[</text>
<text transform="translate(597.99,487.20) scale(1.3996,1)" font-size="11.60" fill="#000">o</text>
<text transform="translate(611.22,496.10) scale(1.3387,1)" font-size="16.60" fill="#000">]</text>
<rect x="88.60" y="517.20" width="220.80" height="177.20" fill="none" stroke="#000" stroke-width="1" stroke-opacity="0.42"/>
<path d="M88.60,517.20 V694.40" fill="none" stroke="#000" stroke-width="1" stroke-opacity="0.4"/>
<path d="M88.60,694.40 H309.40" fill="none" stroke="#000" stroke-width="1" stroke-opacity="0.28"/>
<path d="M100.87,694.40 v-4.10 M113.13,694.40 v-4.10 M125.40,694.40 v-4.10 M137.67,694.40 v-8.20 M149.93,694.40 v-4.10 M162.20,694.40 v-4.10 M174.47,694.40 v-4.10 M186.73,694.40 v-4.10 M199.00,694.40 v-8.20 M211.27,694.40 v-4.10 M223.53,694.40 v-4.10 M235.80,694.40 v-4.10 M248.07,694.40 v-4.10 M260.33,694.40 v-8.20 M272.60,694.40 v-4.10 M284.87,694.40 v-4.10 M297.13,694.40 v-4.10 " stroke="#000" stroke-width="0.9" stroke-opacity="0.5" fill="none"/>
<path d="M88.60,683.51 h5.30 M88.60,677.15 h5.30 M88.60,672.63 h5.30 M88.60,669.13 h5.30 M88.60,666.27 h5.30 M88.60,663.85 h5.30 M88.60,661.75 h5.30 M88.60,659.90 h5.30 M88.60,658.25 h10.70 M88.60,647.37 h5.30 M88.60,641.01 h5.30 M88.60,636.49 h5.30 M88.60,632.99 h5.30 M88.60,630.13 h5.30 M88.60,627.71 h5.30 M88.60,625.61 h5.30 M88.60,623.76 h5.30 M88.60,622.11 h10.70 M88.60,611.23 h5.30 M88.60,604.87 h5.30 M88.60,600.35 h5.30 M88.60,596.85 h5.30 M88.60,593.99 h5.30 M88.60,591.57 h5.30 M88.60,589.47 h5.30 M88.60,587.62 h5.30 M88.60,585.97 h10.70 M88.60,575.09 h5.30 M88.60,568.73 h5.30 M88.60,564.21 h5.30 M88.60,560.71 h5.30 M88.60,557.85 h5.30 M88.60,555.43 h5.30 M88.60,553.33 h5.30 M88.60,551.48 h5.30 M88.60,549.83 h10.70 M88.60,538.95 h5.30 M88.60,532.59 h5.30 M88.60,528.07 h5.30 M88.60,524.57 h5.30 M88.60,521.71 h5.30 M88.60,519.29 h5.30 " stroke="#000" stroke-width="0.9" stroke-opacity="0.5" fill="none"/>
<text transform="translate(124.35,707.90) scale(1.1900,1)" font-size="12.40" fill="#000">-100</text>
<text transform="translate(195.51,707.90) scale(1.1900,1)" font-size="12.40" fill="#000">0</text>
<text transform="translate(249.15,707.90) scale(1.1900,1)" font-size="12.40" fill="#000">100</text>
<text transform="translate(78.14,548.33) scale(1.5000,1)" font-size="8.40" fill="#000">3</text>
<text transform="translate(59.70,554.03) scale(1.1900,1)" font-size="12.40" fill="#000">10</text>
<text transform="translate(78.24,584.47) scale(1.5000,1)" font-size="8.40" fill="#000">2</text>
<text transform="translate(59.70,590.17) scale(1.1900,1)" font-size="12.40" fill="#000">10</text>
<text transform="translate(60.00,626.31) scale(1.1900,1)" font-size="12.40" fill="#000">10</text>
<text transform="translate(66.80,662.45) scale(1.1900,1)" font-size="12.40" fill="#000">1</text>
<text transform="translate(74.39,689.09) scale(1.3900,1)" font-size="8.40" fill="#000">-1</text>
<text transform="translate(55.30,698.59) scale(1.1900,1)" font-size="12.40" fill="#000">10</text>
<text transform="translate(246.19,727.70) scale(1.4206,1)" font-size="16.60" fill="#000" style="font-weight:normal" stroke="#000" stroke-width="0.15">&#934;</text>
<text transform="translate(262.77,733.50) scale(1.3805,1)" font-size="12.20" fill="#000">3</text>
<text transform="translate(276.11,728.10) scale(1.3537,1)" font-size="16.60" fill="#000">[</text>
<text transform="translate(288.59,719.20) scale(1.3996,1)" font-size="11.60" fill="#000">o</text>
<text transform="translate(301.82,728.10) scale(1.3387,1)" font-size="16.60" fill="#000">]</text>
<rect x="397.80" y="517.20" width="221.00" height="177.20" fill="none" stroke="#000" stroke-width="1" stroke-opacity="0.42"/>
<path d="M397.80,517.20 V694.40" fill="none" stroke="#000" stroke-width="1" stroke-opacity="0.4"/>
<path d="M397.80,694.40 H618.80" fill="none" stroke="#000" stroke-width="1" stroke-opacity="0.28"/>
<path d="M410.08,694.40 v-4.10 M422.36,694.40 v-4.10 M434.63,694.40 v-4.10 M446.91,694.40 v-8.20 M459.19,694.40 v-4.10 M471.47,694.40 v-4.10 M483.74,694.40 v-4.10 M496.02,694.40 v-4.10 M508.30,694.40 v-8.20 M520.58,694.40 v-4.10 M532.86,694.40 v-4.10 M545.13,694.40 v-4.10 M557.41,694.40 v-4.10 M569.69,694.40 v-8.20 M581.97,694.40 v-4.10 M594.24,694.40 v-4.10 M606.52,694.40 v-4.10 " stroke="#000" stroke-width="0.9" stroke-opacity="0.5" fill="none"/>
<path d="M397.80,683.51 h5.30 M397.80,677.15 h5.30 M397.80,672.63 h5.30 M397.80,669.13 h5.30 M397.80,666.27 h5.30 M397.80,663.85 h5.30 M397.80,661.75 h5.30 M397.80,659.90 h5.30 M397.80,658.25 h10.70 M397.80,647.37 h5.30 M397.80,641.01 h5.30 M397.80,636.49 h5.30 M397.80,632.99 h5.30 M397.80,630.13 h5.30 M397.80,627.71 h5.30 M397.80,625.61 h5.30 M397.80,623.76 h5.30 M397.80,622.11 h10.70 M397.80,611.23 h5.30 M397.80,604.87 h5.30 M397.80,600.35 h5.30 M397.80,596.85 h5.30 M397.80,593.99 h5.30 M397.80,591.57 h5.30 M397.80,589.47 h5.30 M397.80,587.62 h5.30 M397.80,585.97 h10.70 M397.80,575.09 h5.30 M397.80,568.73 h5.30 M397.80,564.21 h5.30 M397.80,560.71 h5.30 M397.80,557.85 h5.30 M397.80,555.43 h5.30 M397.80,553.33 h5.30 M397.80,551.48 h5.30 M397.80,549.83 h10.70 M397.80,538.95 h5.30 M397.80,532.59 h5.30 M397.80,528.07 h5.30 M397.80,524.57 h5.30 M397.80,521.71 h5.30 M397.80,519.29 h5.30 " stroke="#000" stroke-width="0.9" stroke-opacity="0.5" fill="none"/>
<text transform="translate(433.59,707.90) scale(1.1900,1)" font-size="12.40" fill="#000">-100</text>
<text transform="translate(504.81,707.90) scale(1.1900,1)" font-size="12.40" fill="#000">0</text>
<text transform="translate(558.51,707.90) scale(1.1900,1)" font-size="12.40" fill="#000">100</text>
<text transform="translate(387.34,548.33) scale(1.5000,1)" font-size="8.40" fill="#000">3</text>
<text transform="translate(368.90,554.03) scale(1.1900,1)" font-size="12.40" fill="#000">10</text>
<text transform="translate(387.44,584.47) scale(1.5000,1)" font-size="8.40" fill="#000">2</text>
<text transform="translate(368.90,590.17) scale(1.1900,1)" font-size="12.40" fill="#000">10</text>
<text transform="translate(369.20,626.31) scale(1.1900,1)" font-size="12.40" fill="#000">10</text>
<text transform="translate(376.00,662.45) scale(1.1900,1)" font-size="12.40" fill="#000">1</text>
<text transform="translate(383.59,689.09) scale(1.3900,1)" font-size="8.40" fill="#000">-1</text>
<text transform="translate(364.50,698.59) scale(1.1900,1)" font-size="12.40" fill="#000">10</text>
<text transform="translate(555.59,727.70) scale(1.4206,1)" font-size="16.60" fill="#000" style="font-weight:normal" stroke="#000" stroke-width="0.15">&#934;</text>
<text transform="translate(572.17,733.50) scale(1.3805,1)" font-size="12.20" fill="#000">3</text>
<text transform="translate(585.51,728.10) scale(1.3537,1)" font-size="16.60" fill="#000">[</text>
<text transform="translate(597.99,719.20) scale(1.3996,1)" font-size="11.60" fill="#000">o</text>
<text transform="translate(611.22,728.10) scale(1.3387,1)" font-size="16.60" fill="#000">]</text>
<text transform="translate(175.26,300.45) scale(1.1494,1)" font-size="14.10" fill="#00f">tan</text>
<text transform="translate(197.14,300.45) scale(1.4907,1)" font-size="13.00" fill="#00f" style="font-weight:normal">&#946;</text>
<path d="M211.30,295.90 h8.70 M211.30,298.60 h8.70" stroke="#00f" stroke-width="1.3" fill="none"/>
<text transform="translate(224.88,300.45) scale(1.1733,1)" font-size="14.10" fill="#00f">10</text>
<text transform="translate(222.69,379.00) scale(1.5483,1)" font-size="13.00" fill="#f00" style="font-weight:normal">&#961;</text>
<path d="M236.80,374.45 h8.90 M236.80,377.15 h8.90" stroke="#f00" stroke-width="1.3" fill="none"/>
<text transform="translate(249.89,379.00) scale(1.2727,1)" font-size="13.80" fill="#f00">10</text>
<text transform="translate(191.79,452.00) scale(1.5483,1)" font-size="13.00" fill="#000" style="font-weight:normal">&#961;</text>
<path d="M205.90,447.45 h8.90 M205.90,450.15 h8.90" stroke="#000" stroke-width="1.3" fill="none"/>
<text transform="translate(219.52,452.00) scale(1.1634,1)" font-size="13.80" fill="#000">1</text>
<text transform="translate(478.66,302.35) scale(1.1494,1)" font-size="14.10" fill="#00f">tan</text>
<text transform="translate(500.54,302.35) scale(1.4907,1)" font-size="13.00" fill="#00f" style="font-weight:normal">&#946;</text>
<path d="M514.70,297.80 h8.70 M514.70,300.50 h8.70" stroke="#00f" stroke-width="1.3" fill="none"/>
<text transform="translate(527.35,302.35) scale(1.2566,1)" font-size="14.10" fill="#00f">20</text>
<text transform="translate(482.59,349.80) scale(1.5483,1)" font-size="13.00" fill="#f00" style="font-weight:normal">&#961;</text>
<path d="M496.70,345.25 h8.90 M496.70,347.95 h8.90" stroke="#f00" stroke-width="1.3" fill="none"/>
<text transform="translate(509.79,349.80) scale(1.2727,1)" font-size="13.80" fill="#f00">10</text>
<text transform="translate(538.09,446.80) scale(1.5483,1)" font-size="13.00" fill="#000" style="font-weight:normal">&#961;</text>
<path d="M552.20,442.25 h8.90 M552.20,444.95 h8.90" stroke="#000" stroke-width="1.3" fill="none"/>
<text transform="translate(565.82,446.80) scale(1.1634,1)" font-size="13.80" fill="#000">1</text>
<text transform="translate(168.96,532.25) scale(1.1494,1)" font-size="14.10" fill="#00f">tan</text>
<text transform="translate(190.84,532.25) scale(1.4907,1)" font-size="13.00" fill="#00f" style="font-weight:normal">&#946;</text>
<path d="M205.00,527.70 h8.70 M205.00,530.40 h8.70" stroke="#00f" stroke-width="1.3" fill="none"/>
<text transform="translate(217.74,532.25) scale(1.2498,1)" font-size="14.10" fill="#00f">30</text>
<text transform="translate(173.49,596.90) scale(1.5483,1)" font-size="13.00" fill="#f00" style="font-weight:normal">&#961;</text>
<path d="M187.60,592.35 h8.90 M187.60,595.05 h8.90" stroke="#f00" stroke-width="1.3" fill="none"/>
<text transform="translate(200.69,596.90) scale(1.2727,1)" font-size="13.80" fill="#f00">10</text>
<text transform="translate(246.79,684.60) scale(1.5483,1)" font-size="13.00" fill="#000" style="font-weight:normal">&#961;</text>
<path d="M260.90,680.05 h8.90 M260.90,682.75 h8.90" stroke="#000" stroke-width="1.3" fill="none"/>
<text transform="translate(274.52,684.60) scale(1.1634,1)" font-size="13.80" fill="#000">1</text>
<text transform="translate(478.26,532.25) scale(1.1494,1)" font-size="14.10" fill="#00f">tan</text>
<text transform="translate(500.14,532.25) scale(1.4907,1)" font-size="13.00" fill="#00f" style="font-weight:normal">&#946;</text>
<path d="M514.30,527.70 h8.70 M514.30,530.40 h8.70" stroke="#00f" stroke-width="1.3" fill="none"/>
<text transform="translate(527.49,532.25) scale(1.2169,1)" font-size="14.10" fill="#00f">40</text>
<text transform="translate(546.19,570.80) scale(1.5483,1)" font-size="13.00" fill="#f00" style="font-weight:normal">&#961;</text>
<path d="M560.30,566.25 h8.90 M560.30,568.95 h8.90" stroke="#f00" stroke-width="1.3" fill="none"/>
<text transform="translate(573.39,570.80) scale(1.2727,1)" font-size="13.80" fill="#f00">10</text>
<text transform="translate(446.59,619.00) scale(1.5483,1)" font-size="13.00" fill="#000" style="font-weight:normal">&#961;</text>
<path d="M460.70,614.45 h8.90 M460.70,617.15 h8.90" stroke="#000" stroke-width="1.3" fill="none"/>
<text transform="translate(474.32,619.00) scale(1.1634,1)" font-size="13.80" fill="#000">1</text>
<text transform="translate(447.92,383.30) scale(1.1795,1)" font-size="13.40" fill="#0f0">EXP</text>
<text transform="translate(480.42,376.90) scale(1.1282,1)" font-size="10.00" fill="#0f0">UPPER</text>
<text transform="translate(522.86,383.30) scale(1.0860,1)" font-size="13.00" fill="#0f0">(</text>
<text transform="translate(527.73,383.30) scale(1.3246,1)" font-size="13.00" fill="#0f0">95</text>
<text transform="translate(549.79,383.30) scale(1.2078,1)" font-size="13.00" fill="#0f0">%</text>
<text transform="translate(566.21,383.30) scale(1.1650,1)" font-size="13.00" fill="#0f0">)</text>
</svg></body></html>
